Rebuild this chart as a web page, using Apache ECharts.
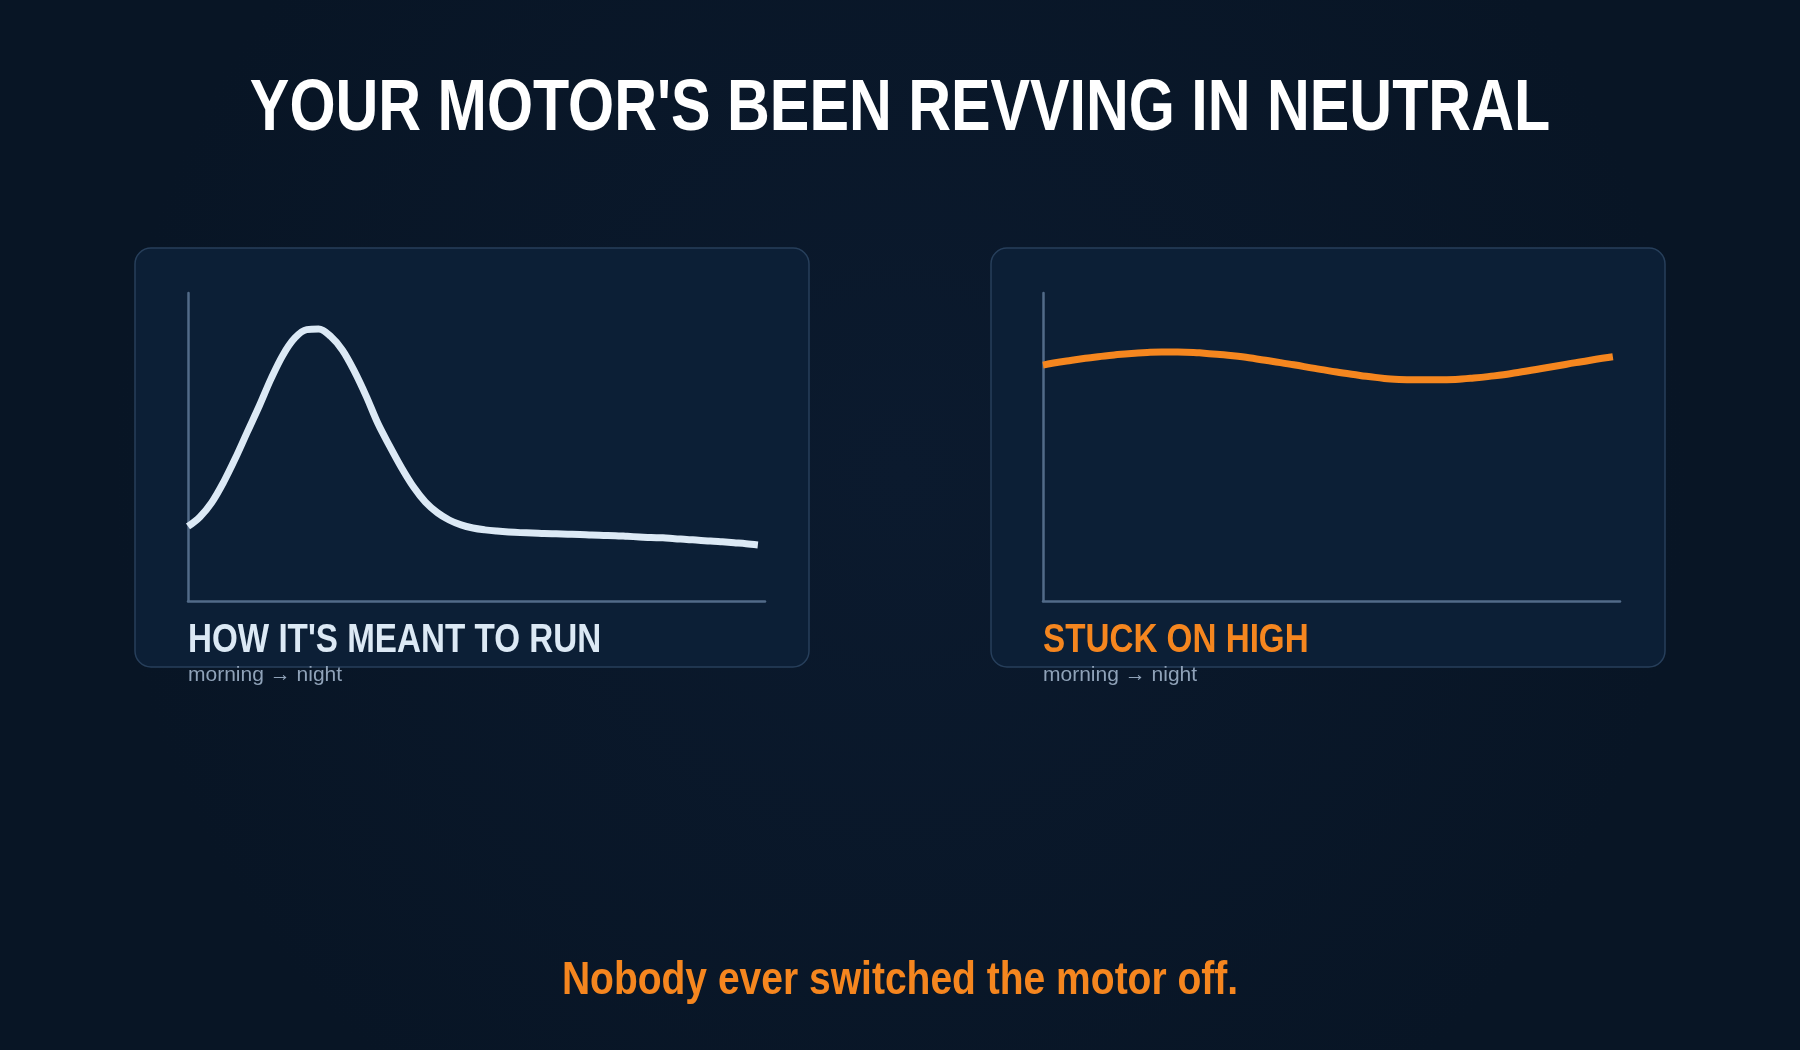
<!DOCTYPE html>
<html>
<head>
<meta charset="utf-8">
<title>Your motor's been revving in neutral</title>
<script src="https://cdn.jsdelivr.net/npm/echarts@6/dist/echarts.min.js"></script>
<style>
  html, body { margin: 0; padding: 0; background: #0a1729; }
  #chart { width: 1800px; height: 1050px; }
</style>
</head>
<body>
<div id="chart"></div>
<script>
const fineSteps = [0, 1, 2, 3, 4, 5, 6, 7, 8, 9, 10, 11, 12, 13, 14, 15, 16, 17, 18, 19, 20, 21, 22, 23, 24,
                   25, 26, 27, 28, 29, 30, 31, 32, 33, 34, 35, 36, 37, 38, 39, 40, 41, 42, 43, 44, 45, 46, 47, 48];
const steps = [0, 1, 2, 3, 4, 5, 6, 7, 8, 9, 10, 11, 12, 13, 14, 15, 16, 17, 18, 19, 20, 21, 22, 23, 24];

// how it's meant to run: one peak, then settles down
const meantToRun = [24.2, 27.3, 32.0, 38.6, 46.4, 54.9, 63.3, 72.2, 79.9, 85.4, 88.1, 88.3, 86.0,
                    81.5, 74.7, 66.6, 57.6, 50.2, 43.2, 37.0, 32.1, 28.7, 26.3, 24.7, 23.7,
                    23.1, 22.7, 22.4, 22.2, 22.1, 21.9, 21.8, 21.7, 21.6, 21.4, 21.3, 21.2,
                    21.0, 20.8, 20.6, 20.5, 20.2, 20.0, 19.7, 19.5, 19.2, 18.9, 18.6, 18.2];

// stuck on high: never comes down
const stuckOnHigh = [76.6, 77.9, 79.0, 79.9, 80.5, 80.85, 80.8, 80.3, 79.6, 78.6, 77.4, 76.1, 74.8,
                     73.6, 72.6, 71.95, 71.8, 71.85, 72.3, 73.1, 74.2, 75.5, 76.8, 78.1, 79.3];

const panelTitles = ['HOW IT\'S MEANT TO RUN', 'STUCK ON HIGH'];
const panelSub = 'morning \u2192 night';
const mainTitle = 'YOUR MOTOR\'S BEEN REVVING IN NEUTRAL';
const footer = 'Nobody ever switched the motor off.';

// no narrow font installed, so bold sans gets squeezed horizontally
const SANS = "'Liberation Sans', Arial, sans-serif";
const ORANGE = '#f5861f';
const LIGHT = '#dce9f5';
const AXIS = '#526b89';

const chart = echarts.init(document.getElementById('chart'));

function pairs(xs, vals) {
    return xs.map((s, i) => [s, vals[i]]);
}

function panel(x) {
    return {
        type: 'rect',
        z: -10,
        shape: { x: x, y: 248, width: 674, height: 419, r: 16 },
        style: { fill: '#0c1f36', stroke: '#273f5b', lineWidth: 1.5 }
    };
}

function label(x, y, text, size, color, weight, align, squeeze) {
    return {
        type: 'text',
        x: x,
        y: y,
        scaleX: squeeze,
        style: {
            text: text,
            fill: color,
            font: weight + ' ' + size + 'px ' + SANS,
            align: align,
            verticalAlign: 'middle'
        }
    };
}

function axisPair(gridIndex, xMax) {
    const line = { show: true, lineStyle: { color: AXIS, width: 2.5 } };
    return {
        x: {
            type: 'value', gridIndex: gridIndex, min: 0, max: xMax,
            axisLine: line, axisTick: { show: false }, axisLabel: { show: false }, splitLine: { show: false }
        },
        y: {
            type: 'value', gridIndex: gridIndex, min: 0, max: 100,
            axisLine: line, axisTick: { show: false }, axisLabel: { show: false }, splitLine: { show: false }
        }
    };
}

const a0 = axisPair(0, 48.6);
const a1 = axisPair(1, 24.3);

const option = {
    backgroundColor: {
        type: 'radial', x: 0.5, y: 0.45, r: 0.75,
        colorStops: [{ offset: 0, color: '#0b1a2e' }, { offset: 1, color: '#081525' }]
    },
    animation: false,
    grid: [
        { left: 188, top: 293, width: 577, height: 308 },
        { left: 1043, top: 293, width: 577, height: 308 }
    ],
    xAxis: [a0.x, a1.x],
    yAxis: [a0.y, a1.y],
    series: [
        {
            type: 'line', xAxisIndex: 0, yAxisIndex: 0,
            data: pairs(fineSteps, meantToRun),
            smooth: 0.35, symbol: 'none',
            lineStyle: { color: LIGHT, width: 7 }
        },
        {
            type: 'line', xAxisIndex: 1, yAxisIndex: 1,
            data: pairs(steps, stuckOnHigh),
            smooth: 0.6, symbol: 'none',
            lineStyle: { color: ORANGE, width: 7 }
        }
    ],
    graphic: [
        panel(135),
        panel(991),
        label(900, 110, mainTitle, 72, '#ffffff', 'bold', 'center', 0.823),
        label(188, 641, panelTitles[0], 41, LIGHT, 'bold', 'left', 0.81),
        label(1043, 641, panelTitles[1], 41, ORANGE, 'bold', 'left', 0.81),
        label(188, 675, panelSub, 21, '#8fa2b8', 'normal', 'left', 1),
        label(1043, 675, panelSub, 21, '#8fa2b8', 'normal', 'left', 1),
        label(900, 981, footer, 47, ORANGE, 'bold', 'center', 0.83)
    ]
};

chart.setOption(option);
window.addEventListener('resize', () => chart.resize());
</script>
</body>
</html>
